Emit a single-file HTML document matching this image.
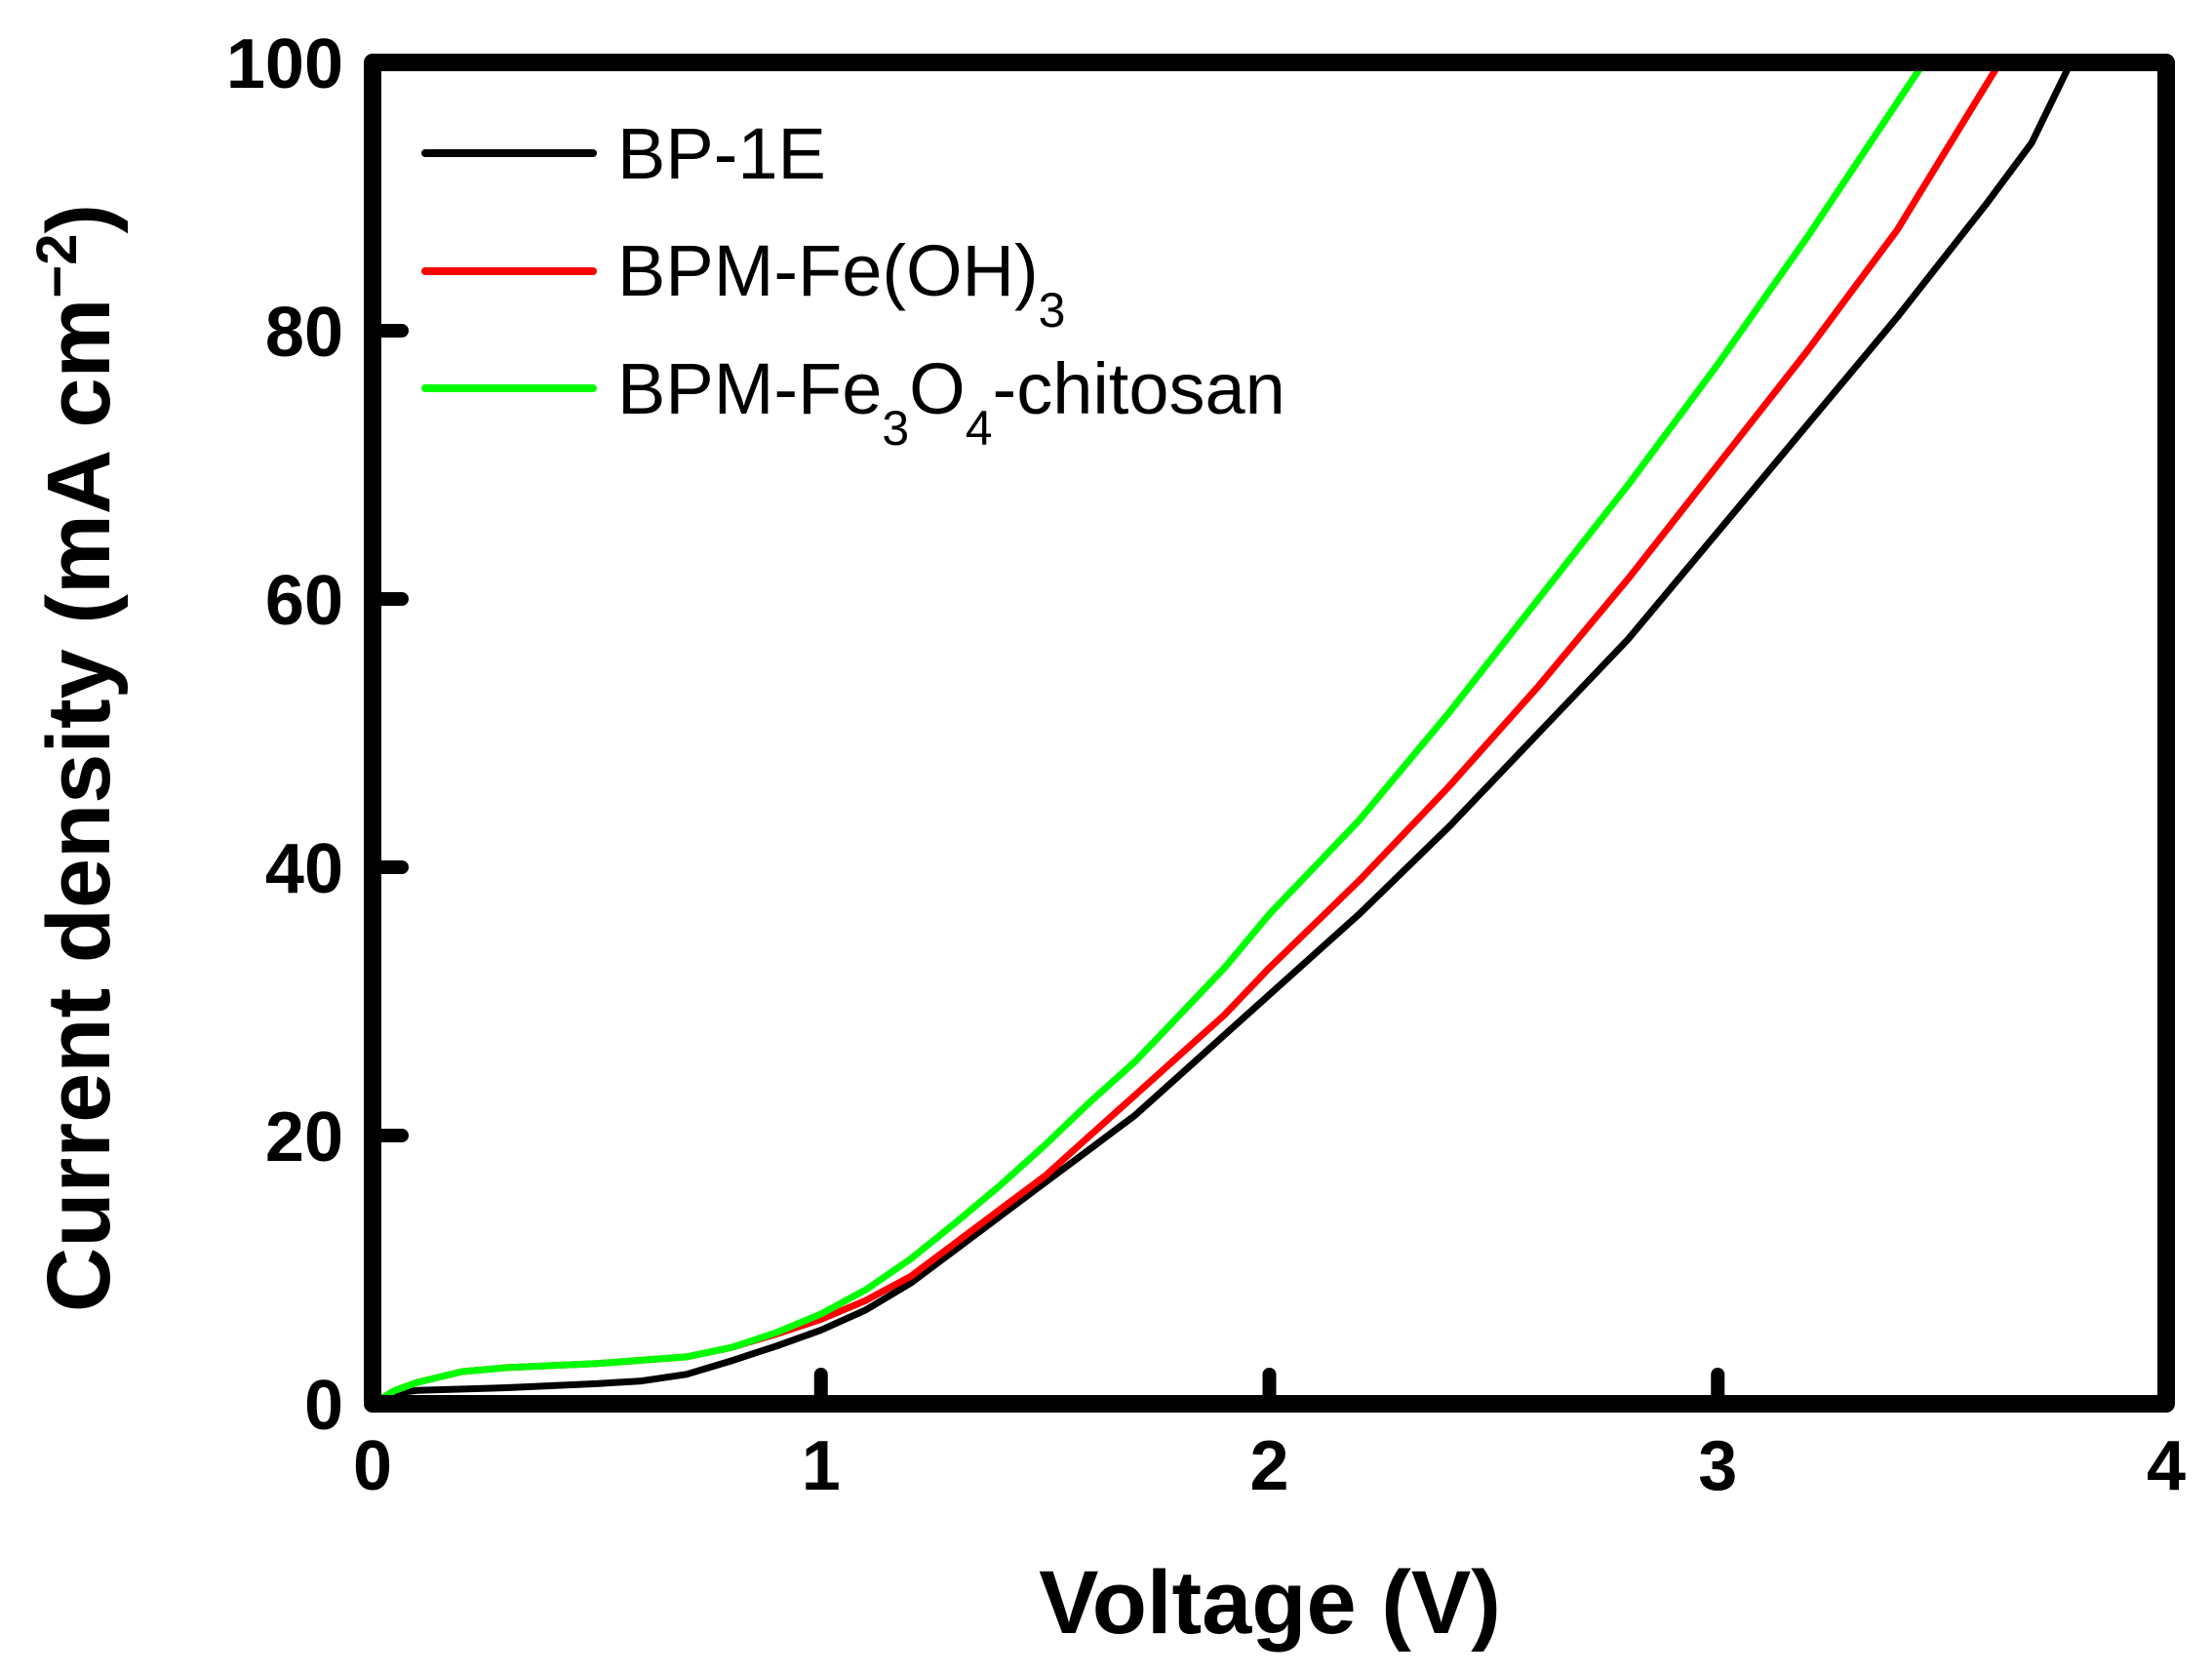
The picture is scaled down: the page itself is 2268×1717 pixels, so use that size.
<!DOCTYPE html>
<html><head><meta charset="utf-8"><style>
html,body{margin:0;padding:0;background:#fff;}
svg{display:block;font-family:"Liberation Sans",Arial,sans-serif;}
</style></head><body>
<svg id="chart" width="2268" height="1717" viewBox="0 0 2268 1717" xmlns="http://www.w3.org/2000/svg">
<g id="series"></g>
<rect x="382" y="64" width="1839" height="1375" fill="none" stroke="#000" stroke-width="18" stroke-linejoin="round"/>
<g id="ticks"></g>
<text x="1302" y="1674" font-size="92" font-weight="bold" text-anchor="middle">Voltage (V)</text>
<text transform="translate(112,777) rotate(-90)" font-size="92" font-weight="bold" text-anchor="middle">Current density (mA cm<tspan font-size="58" dy="-34">−2</tspan><tspan dy="34">)</tspan></text>
<g font-size="74">
<line x1="436" y1="157" x2="608" y2="157" stroke="#000" stroke-width="8" stroke-linecap="round"/>
<text x="633" y="183">BP-1E</text>
<line x1="436" y1="278" x2="608" y2="278" stroke="#ff0000" stroke-width="8" stroke-linecap="round"/>
<text x="633" y="303">BPM-Fe(OH)<tspan font-size="50" dy="32">3</tspan></text>
<line x1="436" y1="398" x2="608" y2="398" stroke="#00ff00" stroke-width="8" stroke-linecap="round"/>
<text x="633" y="424">BPM-Fe<tspan font-size="50" dy="32">3</tspan><tspan dy="-32">O</tspan><tspan font-size="50" dy="32">4</tspan><tspan dy="-32">-chitosan</tspan></text>
</g>
</svg>
<script>
const xTicks = [0, 1, 2, 3, 4];
const yTicks = [0, 20, 40, 60, 80, 100];
const bpX = [0,0.05,0.1,0.3,0.5,0.6,0.7,0.8,0.9,1.0,1.1,1.2,1.3,1.4,1.5,1.6,1.7,1.8,1.9,2.0,2.2,2.4,2.6,2.8,3.0,3.2,3.4,3.6,3.7,3.78];
const bpY = [0,0.8,1.0,1.2,1.5,1.7,2.2,3.2,4.3,5.5,7.0,9.0,11.5,14,16.5,19,21.5,24.5,27.5,30.5,36.5,43,50,57,65,73,81,89.5,94,99.5];
const ohX = [0,0.05,0.1,0.2,0.3,0.5,0.7,0.8,0.9,1.0,1.1,1.2,1.3,1.4,1.5,1.6,1.7,1.8,1.9,2.0,2.2,2.4,2.6,2.8,3.0,3.2,3.4,3.62];
const ohY = [0,1.0,1.6,2.4,2.7,3.0,3.5,4.2,5.2,6.3,7.7,9.5,12,14.5,17,20,23,26,29,32.5,39,46,53.5,61.5,70,78.5,87.5,99.5];
const fcX = [0,0.05,0.1,0.2,0.3,0.5,0.7,0.8,0.9,1.0,1.1,1.2,1.3,1.4,1.5,1.6,1.7,1.8,1.9,2.0,2.2,2.4,2.6,2.8,3.0,3.2,3.35,3.42,3.45];
const fcY = [0,1.0,1.6,2.4,2.7,3.0,3.5,4.2,5.3,6.7,8.5,10.8,13.5,16.3,19.3,22.5,25.5,29,32.5,36.5,43.5,51.5,60,68.5,77.5,87,94.5,98,99.5];

const NS = 'http://www.w3.org/2000/svg';
const X0 = 382, X1 = 2221, Y0 = 1439, Y1 = 64;
function sx(v){ return X0 + (v - 0) / 4 * (X1 - X0); }
function sy(v){ return Y0 - (v - 0) / 100 * (Y0 - Y1); }

const series = document.getElementById('series');
function drawLine(xs, ys, color, name){
  const p = document.createElementNS(NS, 'path');
  let d = '';
  for (let i = 0; i < xs.length; i++) d += (i ? 'L' : 'M') + sx(xs[i]).toFixed(1) + ',' + sy(ys[i]).toFixed(1);
  p.setAttribute('d', d);
  p.setAttribute('fill', 'none');
  p.setAttribute('stroke', color);
  p.setAttribute('stroke-width', '7');
  p.setAttribute('stroke-linejoin', 'round');
  
  
  series.appendChild(p);
}
drawLine(bpX, bpY, '#000000', 'line-bp-1e');
drawLine(ohX, ohY, '#ff0000', 'line-bpm-feoh3');
drawLine(fcX, fcY, '#00ff00', 'line-bpm-fe3o4-chitosan');

const ticks = document.getElementById('ticks');
xTicks.forEach(function(t){
  const x = sx(t);
  if (t > 0 && t < 4) {
    const l = document.createElementNS(NS, 'line');
    l.setAttribute('x1', x); l.setAttribute('x2', x);
    l.setAttribute('y1', Y0); l.setAttribute('y2', Y0 - 30);
    l.setAttribute('stroke', '#000'); l.setAttribute('stroke-width', '14'); l.setAttribute('stroke-linecap', 'round');
    
    
    ticks.appendChild(l);
  }
  const tx = document.createElementNS(NS, 'text');
  tx.setAttribute('x', x); tx.setAttribute('y', 1527);
  tx.setAttribute('font-size', '72'); tx.setAttribute('font-weight', 'bold'); tx.setAttribute('text-anchor', 'middle');
  tx.textContent = String(t);
  
  
  ticks.appendChild(tx);
});
yTicks.forEach(function(t){
  const y = sy(t);
  if (t > 0 && t < 100) {
    const l = document.createElementNS(NS, 'line');
    l.setAttribute('x1', X0); l.setAttribute('x2', X0 + 30);
    l.setAttribute('y1', y); l.setAttribute('y2', y);
    l.setAttribute('stroke', '#000'); l.setAttribute('stroke-width', '14'); l.setAttribute('stroke-linecap', 'round');
    
    
    ticks.appendChild(l);
  }
  const tx = document.createElementNS(NS, 'text');
  tx.setAttribute('x', 352); tx.setAttribute('y', y + 26);
  tx.setAttribute('font-size', '72'); tx.setAttribute('font-weight', 'bold'); tx.setAttribute('text-anchor', 'end');
  tx.textContent = String(t);
  
  
  ticks.appendChild(tx);
});
</script>
</body></html>
